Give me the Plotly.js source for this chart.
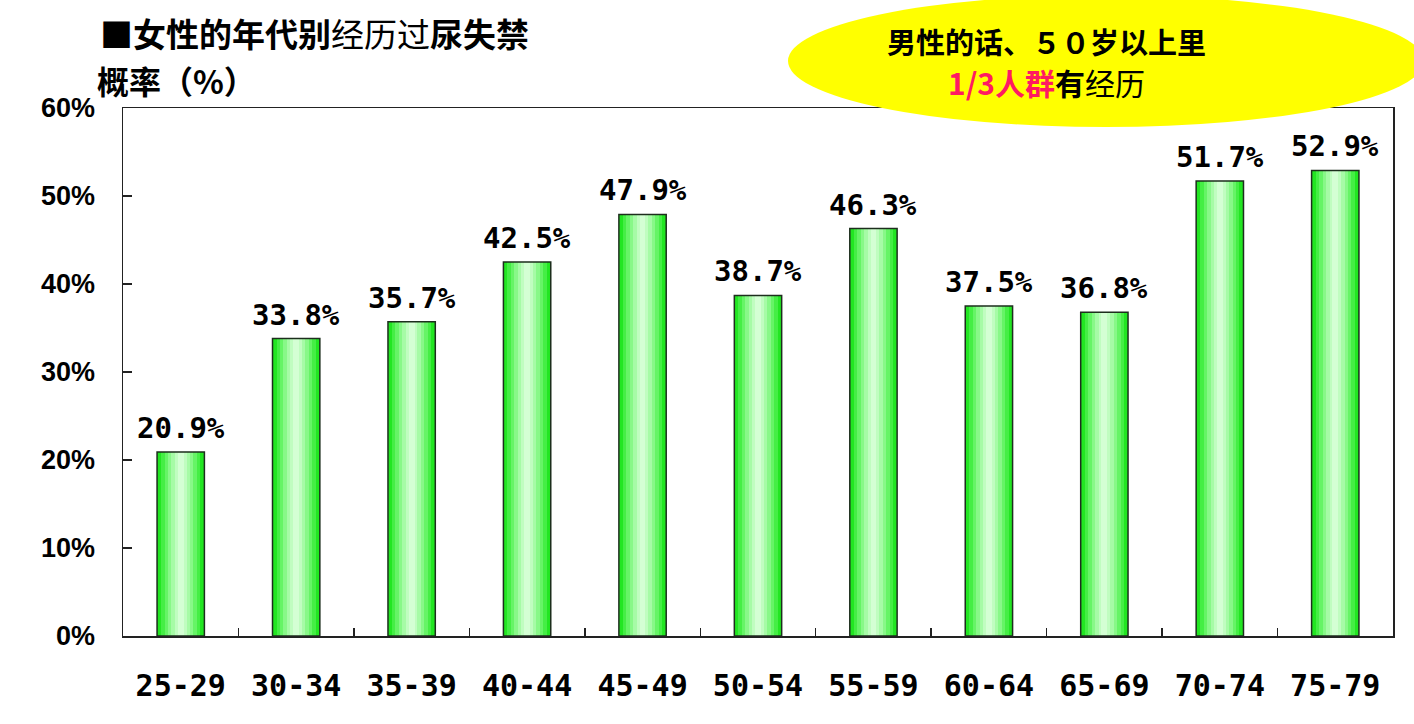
<!DOCTYPE html>
<html>
<head>
<meta charset="utf-8">
<script src="https://cdn.plot.ly/plotly-3.0.1.min.js"></script>
<style>html,body{margin:0;padding:0;background:#fff;}#chart{width:1414px;height:724px;}</style>
</head>
<body>
<div id="chart"></div>
<script>
// ---- data ----
const ageGroups = ['25-29','30-34','35-39','40-44','45-49','50-54','55-59','60-64','65-69','70-74','75-79'];
const rates = [20.9, 33.8, 35.7, 42.5, 47.9, 38.7, 46.3, 37.5, 36.8, 51.7, 52.9];
const rateLabels = ['20.9%','33.8%','35.7%','42.5%','47.9%','38.7%','46.3%','37.5%','36.8%','51.7%','52.9%'];
const titleLine1 = '<b>■女性的年代别</b>经历过<b>尿失禁</b>';
const titleLine2 = '<b>概率（%）</b>';
const noteLine1 = '<b>男性的话、５０岁以上里</b>';
const noteLine2 = '<b><span style="color:#ff1a62">1/3人群</span>有</b>经历';

// ---- styling ----
const L = 123, R = 1393, T = 108, B = 636;
const W = R - L, H = B - T;
const px = x => (x - L) / W;
const py = y => (B - y) / H;

const layerWidths = [0.41, 0.34, 0.28, 0.22, 0.16, 0.10, 0.05];
const layerColors = ['#22e622', '#45ee45', '#66f466', '#88f888', '#a6fba6', '#c0fdc0', '#d4ffd4'];

const traces = layerWidths.map((w, i) => ({
  type: 'bar', x: ageGroups, y: rates, width: w,
  marker: {color: layerColors[i], line: {width: 0}},
  hoverinfo: 'skip', showlegend: false
}));
traces.push({
  type: 'bar', x: ageGroups, y: rates, width: layerWidths[0],
  marker: {color: 'rgba(0,0,0,0)', line: {color: '#1d2e1d', width: 1.5}},
  showlegend: false
});

const annotations = ageGroups.map((g, i) => ({
  x: g, y: rates[i], xref: 'x', yref: 'y', text: rateLabels[i],
  showarrow: false, yanchor: 'bottom', yshift: 5,
  font: {family: 'DejaVu Sans Mono', size: 29, color: '#000', weight: 'bold'}
}));
annotations.push(
  {xref: 'paper', yref: 'paper', x: px(98), y: py(33), xanchor: 'left', yanchor: 'middle',
   text: titleLine1, showarrow: false, font: {family: 'Noto Sans CJK SC', size: 33, color: '#000'}},
  {xref: 'paper', yref: 'paper', x: px(95), y: py(80), xanchor: 'left', yanchor: 'middle',
   text: titleLine2, showarrow: false, font: {family: 'Noto Sans CJK SC', size: 32, color: '#000'}},
  {xref: 'paper', yref: 'paper', x: px(1046), y: py(41), xanchor: 'center', yanchor: 'middle',
   text: noteLine1, showarrow: false, font: {family: 'Noto Sans CJK SC', size: 29, color: '#000'}},
  {xref: 'paper', yref: 'paper', x: px(1046), y: py(82), xanchor: 'center', yanchor: 'middle',
   text: noteLine2, showarrow: false, font: {family: 'Noto Sans CJK SC', size: 30, color: '#000'}}
);

const layout = {
  width: 1414, height: 724,
  margin: {l: L, r: 1414 - R, t: T, b: 724 - B, pad: 0},
  paper_bgcolor: '#fff', plot_bgcolor: '#fff',
  barmode: 'overlay', bargap: 0,
  showlegend: false,
  xaxis: {
    type: 'category', showgrid: false, zeroline: false,
    showline: true, mirror: true, linecolor: '#222', linewidth: 1.5,
    ticks: 'inside', tickson: 'boundaries', ticklen: 8, tickcolor: '#222', tickwidth: 1.5,
    ticklabelstandoff: 22,
    tickfont: {family: 'DejaVu Sans Mono', size: 30, color: '#000', weight: 'bold'}
  },
  yaxis: {
    range: [0, 60], dtick: 10, ticksuffix: '%',
    showgrid: false, zeroline: false,
    showline: true, mirror: true, linecolor: '#222', linewidth: 1.5,
    ticks: 'inside', ticklen: 9, tickcolor: '#222', tickwidth: 1.5,
    ticklabelstandoff: 21,
    tickfont: {family: 'Liberation Sans', size: 27, color: '#000', weight: 'bold'}
  },
  shapes: [{
    type: 'circle', xref: 'paper', yref: 'paper', layer: 'above',
    x0: px(788), x1: px(1424), y0: py(127), y1: py(-5),
    fillcolor: '#ffff00', line: {width: 0}
  }],
  annotations: annotations
};

Plotly.newPlot('chart', traces, layout, {displayModeBar: false, staticPlot: true});
</script>
</body>
</html>
